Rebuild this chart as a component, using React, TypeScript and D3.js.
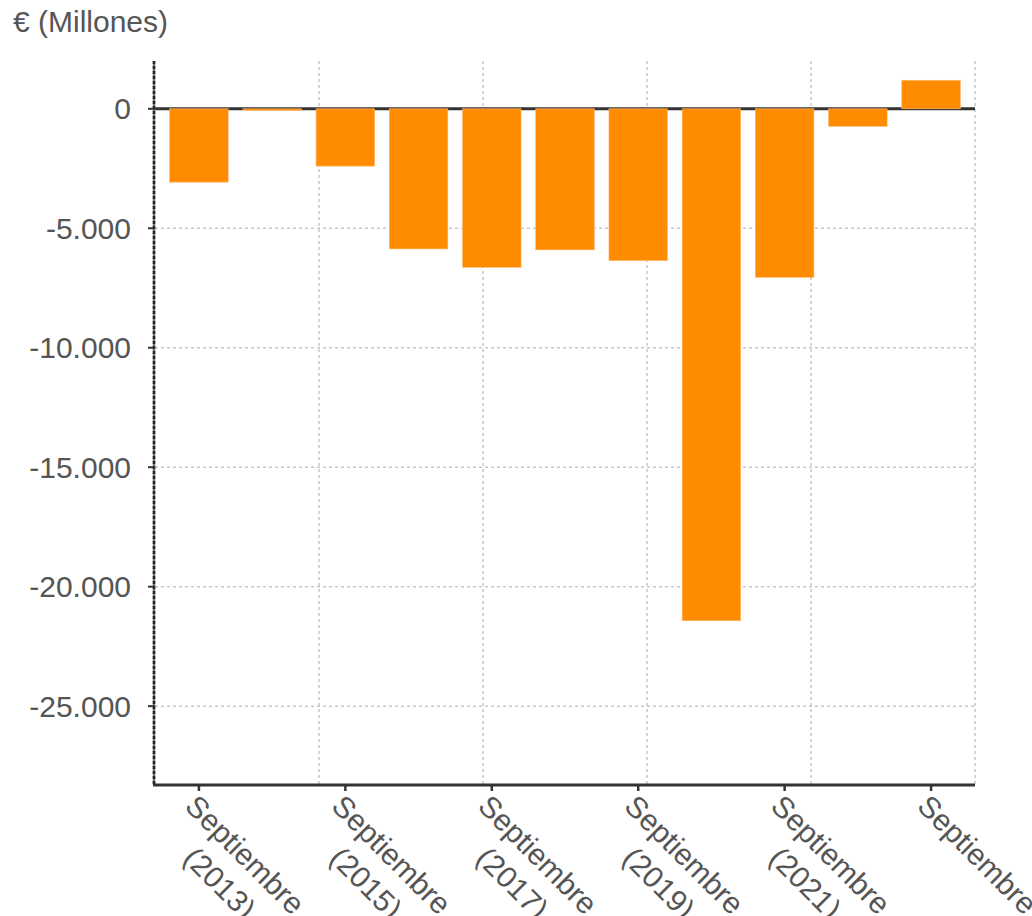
import React from 'react';
import * as d3 from 'd3';

// values in millions of euros, September of each year
const years = ['2013', '2014', '2015', '2016', '2017', '2018', '2019', '2020', '2021', '2022', '2023'];
const values = [-3070, -60, -2400, -5865, -6635, -5905, -6355, -21425, -7055, -735, 1195];
const yTicks = [0, -5000, -10000, -15000, -20000, -25000];
const monthLabel = 'Septiembre';
const unitLabel = '€ (Millones)';

const width = 1032;
const height = 916;
const left = 155;
const right = 975;
const top = 61;
const bottom = 785;

const font = '"Liberation Sans", Arial, sans-serif';
const fontSize = 30;
const textColor = '#555';
const axisColor = '#333';

// Spanish style: dot for thousands, plain hyphen for minus
const fmt = (v: number) => d3.format(',')(v).replace(/,/g, '.').replace('\u2212', '-');

const App: React.FC = () => {
  const x = d3.scaleBand<string>()
    .domain(years)
    .range([left, right])
    .paddingInner(0.2)
    .paddingOuter(0.2);

  const y = d3.scaleLinear()
    .domain([-28300, 2000])
    .range([bottom, top]);

  // vertical grid splits the plot into five equal columns
  const gx = d3.scaleLinear().domain([0, 5]).range([left, right]);
  const vGrid = d3.range(1, 6);

  return (
    <svg width={width} height={height} style={{ position: 'absolute', left: 0, top: 0, fontFamily: font }}>
      <rect x={0} y={0} width={width} height={height} fill="#fff" />

      <text x={13} y={32} fontSize={fontSize} fill={textColor}>{unitLabel}</text>

      {/* horizontal grid */}
      {yTicks.filter(t => t !== 0).map(t => (
        <line key={t} x1={left} x2={right} y1={y(t)} y2={y(t)}
          stroke="#c8c8c8" strokeWidth={1.5} strokeDasharray="3,3" />
      ))}
      {/* vertical grid */}
      {vGrid.map(k => (
        <line key={k} x1={gx(k)} x2={gx(k)} y1={top} y2={bottom}
          stroke="#c8c8c8" strokeWidth={1.5} strokeDasharray="3,3" />
      ))}

      {/* zero line */}
      <line x1={left} x2={right} y1={y(0)} y2={y(0)} stroke={axisColor} strokeWidth={3} />

      {/* bars */}
      {years.map((yr, i) => {
        const v = values[i];
        const y0 = y(Math.max(0, v));
        const y1 = y(Math.min(0, v));
        return (
          <rect key={yr} x={x(yr)} y={y0} width={x.bandwidth()} height={Math.max(1.5, y1 - y0)}
            fill="#ff8c00" stroke="#ffb870" strokeWidth={0.6} />
        );
      })}

      {/* y axis */}
      <line x1={left - 1} x2={left - 1} y1={top} y2={bottom} stroke="#777" strokeWidth={2.5} />
      <line x1={left - 1} x2={left - 1} y1={top} y2={bottom} stroke="#222" strokeWidth={2.5} strokeDasharray="3,2" />
      {yTicks.map(t => (
        <g key={t} transform={`translate(0,${y(t)})`}>
          <line x1={left - 7} x2={left} stroke={axisColor} strokeWidth={2} />
          <text x={131} dy="0.35em" textAnchor="end" fontSize={fontSize} fill={textColor}>{fmt(t)}</text>
        </g>
      ))}

      {/* x axis */}
      <line x1={left - 2} x2={right} y1={bottom} y2={bottom} stroke={axisColor} strokeWidth={3} />
      {years.map((yr, i) => {
        if (i % 2 !== 0) return null;
        const cx = (x(yr) as number) + x.bandwidth() / 2;
        const last = i === years.length - 1;
        return (
          <g key={yr} transform={`translate(${cx},${bottom})`}>
            <line y1={0} y2={6} stroke={axisColor} strokeWidth={2.5} />
            <g transform="rotate(45)">
              <text x={82} y={27} textAnchor="middle" fontSize={fontSize} fill={textColor}>{monthLabel}</text>
              {!last && (
                <text x={84} y={65} textAnchor="middle" fontSize={fontSize} fill={textColor}>({yr})</text>
              )}
            </g>
          </g>
        );
      })}
    </svg>
  );
};

export default App;
